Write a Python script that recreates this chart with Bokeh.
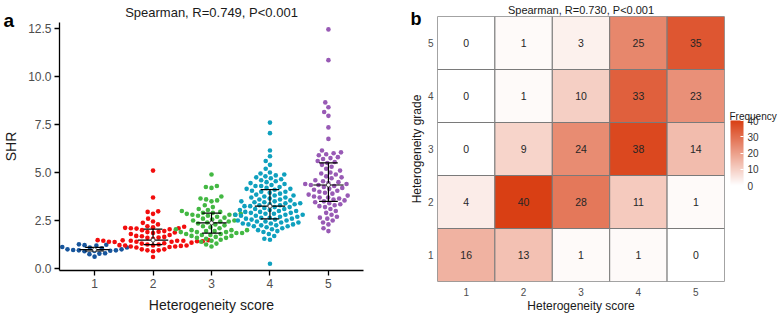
import math
import numpy as np
from bokeh.plotting import figure
from bokeh.layouts import row, column
from bokeh.models import (ColumnDataSource, FixedTicker, Label, LinearColorMapper,
                          ColorBar, Range1d, PrintfTickFormatter)
from bokeh.transform import transform
from bokeh.core.properties import value
from bokeh.embed import file_html
from bokeh.resources import INLINE

FONT = "Liberation Sans"

# ---------------- data ----------------
scores = [1, 2, 3, 4, 5]
group_colors = ["#17559C", "#F20D0D", "#43B843", "#0FA0BE", "#985AB5"]

shr_1 = [0.62, 0.75, 0.78, 0.8, 0.9, 0.92, 0.93, 0.95, 0.95, 0.97, 1.0, 1.0,
         1.05, 1.1, 1.1, 1.12, 1.2, 1.22, 1.24, 1.26]
shr_2 = [0.6,
         0.9, 0.95, 0.95, 1.0, 1.0,
         1.1, 1.12, 1.15, 1.15, 1.18, 1.2, 1.2, 1.2, 1.22, 1.25, 1.25,
         1.3, 1.32, 1.35, 1.38, 1.4, 1.4, 1.4, 1.42, 1.42, 1.45, 1.45, 1.45, 1.45,
         1.47, 1.48, 1.48,
         1.55, 1.6, 1.62, 1.65, 1.68, 1.7, 1.75,
         1.8, 1.85, 1.88, 1.9, 1.92, 1.95, 2.0,
         2.05, 2.08, 2.1, 2.1, 2.12, 2.15, 2.18, 2.2,
         2.3, 2.38, 2.45,
         2.6,
         2.85, 2.95, 2.98,
         3.7, 5.1]
shr_3 = [4.9, 4.3, 4.25, 4.2, 3.75, 3.65, 3.6, 3.55, 3.5, 3.3, 3.2, 3.1, 3.05, 3.0,
         2.95, 2.9, 2.9,
         2.85, 2.85, 2.8, 2.8, 2.8, 2.75, 2.75, 2.7, 2.65, 2.6, 2.55, 2.5, 2.5, 2.45,
         2.45, 2.4,
         2.35, 2.3, 2.25, 2.2, 2.15, 2.1, 2.05, 2.0, 2.0, 2.0, 1.95, 1.95, 1.9, 1.9,
         1.9, 1.85,
         1.85, 1.8, 1.8, 1.75, 1.75, 1.7, 1.7, 1.65, 1.6, 1.6, 1.55, 1.5, 1.45, 1.4,
         1.3, 1.25, 1.15]
shr_4 = [7.6, 7.05, 6.15, 5.85, 5.6, 5.4, 5.2, 5.0, 4.95, 4.9, 4.85, 4.8, 4.75, 4.7,
         4.65, 4.6, 4.55, 4.5, 4.45, 4.4, 4.35, 4.3, 4.3, 4.25, 4.2, 4.15, 4.15,
         4.1, 4.05, 4.0, 4.0, 3.95, 3.9, 3.85, 3.8, 3.8, 3.75, 3.7, 3.7, 3.65, 3.6,
         3.6, 3.55, 3.5, 3.5, 3.45, 3.45, 3.4, 3.4, 3.35, 3.35, 3.3, 3.3, 3.25,
         3.25, 3.2, 3.2, 3.15, 3.1, 3.1, 3.05, 3.05, 3.0, 3.0, 2.95, 2.95, 2.9, 2.9,
         2.85, 2.85, 2.8, 2.8, 2.8, 2.75, 2.75, 2.7, 2.7, 2.65, 2.65, 2.6, 2.6,
         2.55, 2.55, 2.5, 2.5, 2.45, 2.45, 2.4, 2.4, 2.35, 2.35, 2.3, 2.3, 2.25,
         2.25, 2.2, 2.2, 2.15, 2.1, 2.05, 2.0, 1.95, 1.9, 1.8, 1.7, 1.55, 1.5, 0.25]
shr_5 = [12.45, 10.85, 8.65, 8.4, 8.15, 7.95, 7.35, 6.75, 6.15, 6.05, 6.0, 5.95,
         5.9, 5.8, 5.75, 5.7, 5.6, 5.55,
         5.5, 5.4, 5.3, 5.2, 5.1, 5.0, 4.95, 4.9, 4.8, 4.75, 4.7, 4.6, 4.55, 4.5,
         4.45, 4.4, 4.4, 4.35,
         4.35,
         4.3, 4.25, 4.2, 4.15, 4.1, 4.05, 4.0, 3.95, 3.9, 3.85, 3.8, 3.75, 3.7, 3.7,
         3.65, 3.6, 3.55, 3.5,
         3.45, 3.4, 3.35, 3.3, 3.25, 3.2, 3.1, 3.0, 2.9, 2.8, 2.7, 2.65, 2.6, 2.5,
         2.4, 2.3, 2.1, 1.95]
shr_groups = [shr_1, shr_2, shr_3, shr_4, shr_5]

grades = [1, 2, 3, 4, 5]
freq_grade_1 = [16, 13, 1, 1, 0]
freq_grade_2 = [4, 40, 28, 11, 1]
freq_grade_3 = [0, 9, 24, 38, 14]
freq_grade_4 = [0, 1, 10, 33, 23]
freq_grade_5 = [0, 1, 3, 25, 35]
freq_rows = [freq_grade_1, freq_grade_2, freq_grade_3, freq_grade_4, freq_grade_5]
legend_ticks = [0, 10, 20, 30, 40]

# ---------------- panel a: SHR by heterogeneity score ----------------
W_A, H_A = 390, 315
L_A, R_A, T_A, B_A = 54, 27, 20, 45
X0, X1 = 0.4, 5.6
Y0, Y1 = -0.1, 12.81
px_x = (W_A - L_A - R_A) / (X1 - X0)
px_y = (H_A - T_A - B_A) / (Y1 - Y0)
DOT = 4.6
GAP = 5.8


def swarm_offsets(vals, spacing):
    """Horizontal pixel offsets of a beeswarm, filled from the lowest value up."""
    order = np.argsort(vals, kind="stable")
    placed = []
    offs = np.zeros(len(vals))
    for i in order:
        y = vals[i] * px_y
        blocked = []
        for (px, py) in placed:
            dy = abs(y - py)
            if dy < spacing:
                w = math.sqrt(spacing * spacing - dy * dy)
                blocked.append((px - w, px + w))
        cands = [0.0] + [b[0] for b in blocked] + [b[1] for b in blocked]
        cands.sort(key=lambda c: (abs(c), c))
        best = 0.0
        for c in cands:
            if all(not (lo + 1e-6 < c < hi - 1e-6) for lo, hi in blocked):
                best = c
                break
        offs[i] = best
        placed.append((best, y))
    return offs


pa = figure(width=W_A, height=H_A, output_backend="svg", toolbar_location=None,
            x_range=Range1d(X0, X1), y_range=Range1d(Y0, Y1),
            min_border_left=L_A, min_border_right=R_A, min_border_top=T_A,
            min_border_bottom=B_A)
for s, vals, col in zip(scores, shr_groups, group_colors):
    v = np.array(vals, dtype=float)
    offs = swarm_offsets(v, GAP)
    pa.scatter(x=s + offs / px_x, y=v, size=DOT, fill_color=col, line_color=None)

# median and interquartile range per group
for s, vals in zip(scores, shr_groups):
    q1, med, q3 = np.percentile(vals, [25, 50, 75])
    pa.segment(x0=[s], y0=[q1], x1=[s], y1=[q3], line_color="black", line_width=1.2)
    pa.segment(x0=[s - 0.16, s - 0.16], y0=[q1, q3], x1=[s + 0.16, s + 0.16],
               y1=[q1, q3], line_color="black", line_width=1.2)
    pa.segment(x0=[s - 0.26], y0=[med], x1=[s + 0.26], y1=[med],
               line_color="black", line_width=1.2)
    pa.scatter(x=[s], y=[med], size=4, fill_color="white", line_color="#333333",
               line_width=0.8)

pa.title.text = "Spearman, R=0.749, P<0.001"
pa.title.align = "center"
pa.title.text_font = FONT
pa.title.text_font_size = "13px"
pa.title.text_font_style = "normal"
pa.title.text_color = "#1A1A1A"
pa.title.offset = 0
pa.title.standoff = 5
pa.xaxis.ticker = FixedTicker(ticks=scores)
pa.yaxis.ticker = FixedTicker(ticks=[0, 2.5, 5, 7.5, 10, 12.5])
pa.yaxis.formatter = PrintfTickFormatter(format="%.1f")
pa.xaxis.axis_label = "Heterogeneity score"
pa.yaxis.axis_label = "SHR"
for ax in (pa.xaxis, pa.yaxis):
    ax.axis_line_color = "black"
    ax.axis_line_width = 1.3
    ax.major_tick_line_color = "black"
    ax.major_tick_line_width = 1.3
    ax.major_tick_out = 5
    ax.major_tick_in = 0
    ax.minor_tick_line_color = None
    ax.major_label_text_font = FONT
    ax.major_label_text_font_size = "12px"
    ax.major_label_text_color = "#4D4D4D"
    ax.major_label_standoff = 3
    ax.axis_label_text_font = FONT
    ax.axis_label_text_font_size = "14px"
    ax.axis_label_text_font_style = "normal"
    ax.axis_label_text_color = "#1A1A1A"
    ax.axis_label_standoff = 6
pa.xgrid.grid_line_color = None
pa.ygrid.grid_line_color = None
pa.outline_line_color = None

# panel letter, placed from the (otherwise empty) right border
pa.add_layout(Label(x=3 - (W_A - R_A), y=250, x_units="screen", y_units="screen",
                    text="a", text_font=FONT, text_font_size="19px",
                    text_font_style="bold", text_color="black", text_align="left",
                    text_baseline="alphabetic"), "right")

# ---------------- panel b: grade vs score heatmap ----------------
hi_rgb = (217, 63, 20)
palette = []
for t in np.linspace(0, 1, 256):
    r = round(255 + (hi_rgb[0] - 255) * t)
    g = round(255 + (hi_rgb[1] - 255) * t)
    b = round(255 + (hi_rgb[2] - 255) * t)
    palette.append("#%02x%02x%02x" % (r, g, b))
mapper = LinearColorMapper(palette=palette, low=0, high=40)

xs, ys, fs = [], [], []
for g, rowvals in zip(grades, freq_rows):
    for s, f in zip(scores, rowvals):
        xs.append(s)
        ys.append(g)
        fs.append(f)
src = ColumnDataSource(dict(score=xs, grade=ys, freq=fs,
                            label=[str(f) for f in fs]))

pb = figure(width=388, height=315, output_backend="svg", toolbar_location=None,
            x_range=Range1d(0.5, 5.5), y_range=Range1d(0.5, 5.5),
            min_border_left=47, min_border_right=54, min_border_top=15,
            min_border_bottom=32)
pb.rect(x="score", y="grade", width=1, height=1, source=src,
        fill_color=transform("freq", mapper), line_color="#7A7A7A", line_width=1)
pb.text(x="score", y="grade", text="label", source=src, text_align="center",
        text_baseline="middle", text_font=value(FONT), text_font_size="10.5px",
        text_color="#262626")
pb.title.text = "Spearman, R=0.730, P<0.001"
pb.title.align = "center"
pb.title.text_font = FONT
pb.title.text_font_size = "11px"
pb.title.text_font_style = "normal"
pb.title.text_color = "#1A1A1A"
pb.title.offset = 0
pb.title.standoff = 2
pb.xaxis.ticker = FixedTicker(ticks=scores)
pb.yaxis.ticker = FixedTicker(ticks=grades)
pb.xaxis.axis_label = "Heterogeneity score"
pb.yaxis.axis_label = "Heterogeneity grade"
for ax in (pb.xaxis, pb.yaxis):
    ax.axis_line_color = None
    ax.major_tick_line_color = None
    ax.minor_tick_line_color = None
    ax.major_tick_out = 0
    ax.major_tick_in = 0
    ax.major_label_text_font = FONT
    ax.major_label_text_font_size = "10px"
    ax.major_label_text_color = "#4D4D4D"
    ax.axis_label_text_font = FONT
    ax.axis_label_text_font_size = "12px"
    ax.axis_label_text_font_style = "normal"
    ax.axis_label_text_color = "#1A1A1A"
pb.xaxis.major_label_standoff = 6
pb.xaxis.axis_label_standoff = 0
pb.yaxis.major_label_standoff = 4
pb.yaxis.axis_label_standoff = 1
pb.xgrid.grid_line_color = None
pb.ygrid.grid_line_color = None
pb.outline_line_color = "#BDBDBD"

cb = ColorBar(color_mapper=mapper, ticker=FixedTicker(ticks=legend_ticks),
              width=13, height=65, location=(293, 96), padding=0,
              major_label_text_font=FONT, major_label_text_font_size="10px",
              major_label_text_color="#333333", label_standoff=4,
              major_tick_line_color="white", major_tick_in=3, major_tick_out=0,
              bar_line_color=None, background_fill_alpha=0, border_line_color=None)
pb.add_layout(cb, "center")

pb.add_layout(Label(x=5, y=165, x_units="screen", y_units="screen", text="Frequency",
                    text_font=FONT, text_font_size="10px", text_color="#1A1A1A",
                    text_align="left", text_baseline="alphabetic"), "right")
pb.add_layout(Label(x=15, y=263, x_units="screen", y_units="screen", text="b",
                    text_font=FONT, text_font_size="18px", text_font_style="bold",
                    text_color="black", text_align="left", text_baseline="alphabetic"),
              "left")

layout = row(column(pa), column(pb))
open("out.html", "w").write(file_html(layout, INLINE))
